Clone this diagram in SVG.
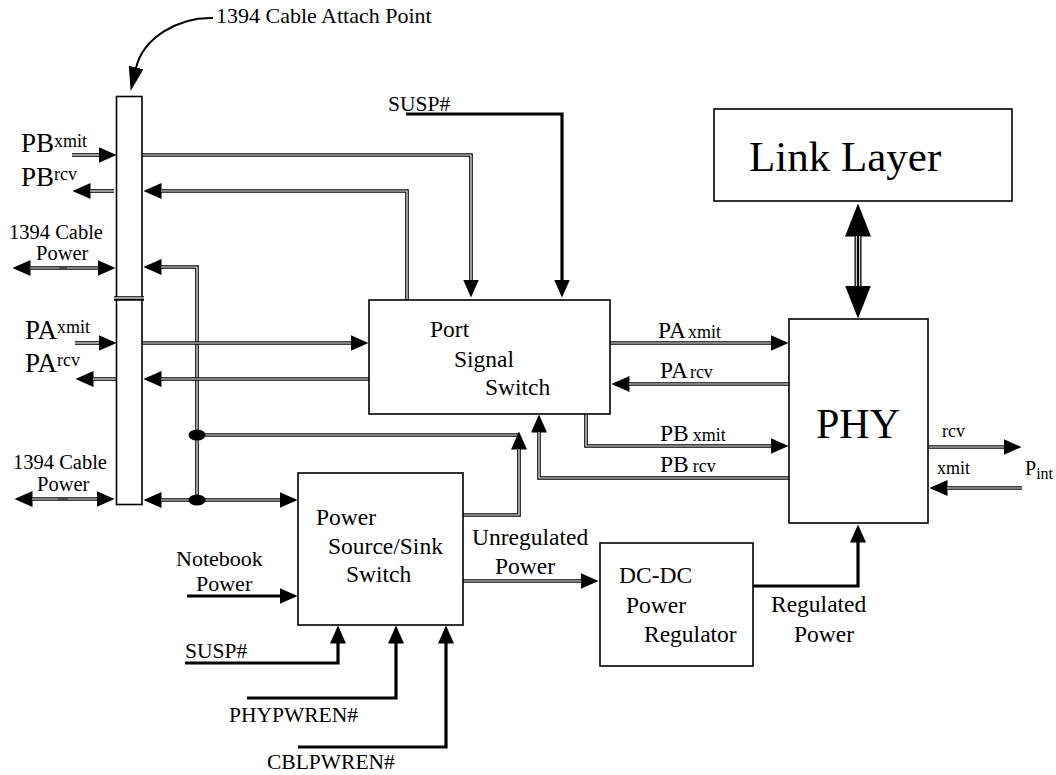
<svg xmlns="http://www.w3.org/2000/svg" width="1056" height="775" viewBox="0 0 1056 775">
<style>
text{font-family:"Liberation Serif","Times New Roman",serif;fill:#000}
.box{fill:#fff;stroke:#000;stroke-width:1.6}
.o{fill:none;stroke:#000;stroke-width:3.6}
.i{fill:none;stroke:#fff;stroke-width:1.2}
.k{fill:none;stroke:#000;stroke-width:3.2}
.f22{font-size:22px}
.f21{font-size:21.5px}
.f20{font-size:20.5px}
.f23{font-size:23.5px}
.f18{font-size:18px}
.f27{font-size:27px}
</style>
<defs>
<marker id="ah" markerUnits="userSpaceOnUse" markerWidth="18" markerHeight="16" viewBox="0 0 18 16" refX="0.5" refY="8" orient="auto-start-reverse"><path d="M0,0 L18,8 L0,16 z" fill="#000"/></marker>
<marker id="ahb" markerUnits="userSpaceOnUse" markerWidth="33" markerHeight="26" viewBox="0 0 33 26" refX="0.5" refY="13" orient="auto-start-reverse"><path d="M0,0 L33,13 L0,26 z" fill="#000"/></marker>
<marker id="ahc" markerUnits="userSpaceOnUse" markerWidth="24" markerHeight="15" viewBox="0 0 24 15" refX="0.5" refY="7.5" orient="auto"><path d="M0,0 L24,7.5 L0,15 z" fill="#000"/></marker>
</defs>
<rect width="1056" height="775" fill="#fff"/>

<g id="connectors">
  <path d="M213 18 C178 17 143 38 136 68" fill="none" stroke="#000" stroke-width="2" marker-end="url(#ahc)"/>
  <path class="o" d="M72 155 H99" marker-end="url(#ah)"/><path class="i" d="M72 155 H99"/>
  <path class="o" d="M114 191 H90" marker-end="url(#ah)"/><path class="i" d="M114 191 H90"/>
  <path class="o" d="M142 155 H471 V280" marker-end="url(#ah)"/><path class="i" d="M142 155 H471 V280"/>
  <path class="o" d="M407 300 V191 H161" marker-end="url(#ah)"/><path class="i" d="M407 300 V191 H161"/>
  <path class="o" d="M30 268 H98" marker-start="url(#ah)" marker-end="url(#ah)"/><path class="i" d="M30 268 H98"/>
  <path d="M59 268 H67" stroke="#333" stroke-width="1.4"/>
  <path class="o" d="M197 500 V267 H161" marker-end="url(#ah)"/><path class="i" d="M197 500 V267 H161"/>
  <path class="o" d="M75 343 H99" marker-end="url(#ah)"/><path class="i" d="M75 343 H99"/>
  <path class="o" d="M117 379 H93" marker-end="url(#ah)"/><path class="i" d="M117 379 H93"/>
  <path class="o" d="M142 343 H351" marker-end="url(#ah)"/><path class="i" d="M142 343 H351"/>
  <path class="o" d="M369 379 H161" marker-end="url(#ah)"/><path class="i" d="M369 379 H161"/>
  <path class="o" d="M197 435 H519"/><path class="i" d="M197 435 H519"/>
  <path class="o" d="M161 500 H280" marker-start="url(#ah)" marker-end="url(#ah)"/><path class="i" d="M161 500 H280"/>
  <path class="o" d="M32 499 H97" marker-start="url(#ah)" marker-end="url(#ah)"/><path class="i" d="M32 499 H97"/>
  <path d="M58 499 H68" stroke="#333" stroke-width="1.4"/>
  <path class="o" d="M463 515 H519 V449" marker-end="url(#ah)"/><path class="i" d="M463 515 H519 V449"/>
  <path class="o" d="M791 478 H539 V432" marker-end="url(#ah)"/><path class="i" d="M791 478 H539 V432"/>
  <path class="o" d="M586 414 V446 H771" marker-end="url(#ah)"/><path class="i" d="M586 414 V446 H771"/>
  <path class="o" d="M610 343 H771" marker-end="url(#ah)"/><path class="i" d="M610 343 H771"/>
  <path class="o" d="M790 384 H629" marker-end="url(#ah)"/><path class="i" d="M790 384 H629"/>
  <path class="o" d="M928 447 H1004" marker-end="url(#ah)"/><path class="i" d="M928 447 H1004"/>
  <path class="o" d="M1022 488 H947" marker-end="url(#ah)"/><path class="i" d="M1022 488 H947"/>
  <path class="o" d="M463 581 H581" marker-end="url(#ah)"/><path class="i" d="M463 581 H581"/>
  <path d="M858 236 V286" fill="none" stroke="#000" stroke-width="7" marker-start="url(#ahb)" marker-end="url(#ahb)"/>
  <path d="M856.3 236 V286 M859.7 236 V286" fill="none" stroke="#fff" stroke-width="1"/>
  <path class="k" d="M406 114 H562 V280" marker-end="url(#ah)"/>
  <path class="k" d="M187 596 H280" marker-end="url(#ah)"/>
  <path class="k" d="M185 663 H338 V643" marker-end="url(#ah)"/>
  <path class="k" d="M247 698 H396 V643" marker-end="url(#ah)"/>
  <path class="k" d="M298 747 H446 V643" marker-end="url(#ah)"/>
  <path class="k" d="M753 586 H858 V542" marker-end="url(#ah)"/>
  <ellipse cx="197" cy="435" rx="8.5" ry="5.5" fill="#000"/>
  <ellipse cx="197" cy="500" rx="8.5" ry="5.5" fill="#000"/>
</g>

<g id="bar">
  <rect class="box" x="116.5" y="96.5" width="25.5" height="408"/>
  <path class="o" d="M114 298.5 H144" style="stroke-width:4.5"/><path class="i" d="M114 298 H144"/>
</g>

<g id="pss">
  <rect class="box" x="369" y="300" width="241" height="114"/>
  <text class="f23" x="430" y="337">Port</text>
  <text class="f23" x="454" y="367">Signal</text>
  <text class="f23" x="485" y="395">Switch</text>
</g>

<g id="phy">
  <rect class="box" x="789" y="319" width="139" height="204"/>
  <text x="816" y="438" style="font-size:42px">PHY</text>
</g>

<g id="link">
  <rect class="box" x="714" y="109" width="298" height="92"/>
  <text x="749" y="171" style="font-size:43px">Link Layer</text>
</g>

<g id="pwr">
  <rect class="box" x="298" y="473" width="165" height="152"/>
  <text class="f23" x="316" y="525">Power</text>
  <text class="f23" x="328" y="554">Source/Sink</text>
  <text class="f23" x="346" y="582">Switch</text>
</g>

<g id="dcdc">
  <rect class="box" x="600" y="543" width="153" height="123"/>
  <text class="f23" x="619" y="583">DC-DC</text>
  <text class="f23" x="626" y="613">Power</text>
  <text class="f23" x="644" y="642">Regulator</text>
</g>

<g id="labels">
  <text class="f22" x="216" y="23">1394 Cable Attach Point</text>
  <text class="f27" x="21" y="152">PB<tspan class="f18" dy="-5">xmit</tspan></text>
  <text class="f27" x="21" y="186">PB<tspan class="f18" dy="-6">rcv</tspan></text>
  <text class="f20" x="9" y="239">1394 Cable</text>
  <text class="f20" x="36" y="260">Power</text>
  <text class="f27" x="25" y="339">PA<tspan class="f18" dy="-6">xmit</tspan></text>
  <text class="f27" x="25" y="372">PA<tspan class="f18" dy="-6">rcv</tspan></text>
  <text class="f20" x="13" y="469">1394 Cable</text>
  <text class="f20" x="37" y="491">Power</text>
  <text class="f21" x="388" y="111">SUSP#</text>
  <text class="f23" x="658" y="338">PA<tspan class="f18" dx="2">xmit</tspan></text>
  <text class="f23" x="660" y="378">PA<tspan class="f18" dx="2">rcv</tspan></text>
  <text class="f23" x="660" y="441">PB<tspan class="f18" dx="4">xmit</tspan></text>
  <text class="f23" x="660" y="472">PB<tspan class="f18" dx="4">rcv</tspan></text>
  <text class="f18" x="942" y="437">rcv</text>
  <text class="f18" x="937" y="474">xmit</text>
  <text x="1025" y="475" style="font-size:20px">P<tspan style="font-size:16px" dy="4">int</tspan></text>
  <text class="f22" x="176" y="566">Notebook</text>
  <text class="f22" x="196" y="591">Power</text>
  <text class="f21" x="185" y="658">SUSP#</text>
  <text class="f21" x="229" y="722">PHYPWREN#</text>
  <text class="f21" x="267" y="769">CBLPWREN#</text>
  <text class="f23" x="472" y="545">Unregulated</text>
  <text class="f23" x="495" y="574">Power</text>
  <text class="f23" x="771" y="612">Regulated</text>
  <text class="f23" x="794" y="642">Power</text>
</g>
</svg>
